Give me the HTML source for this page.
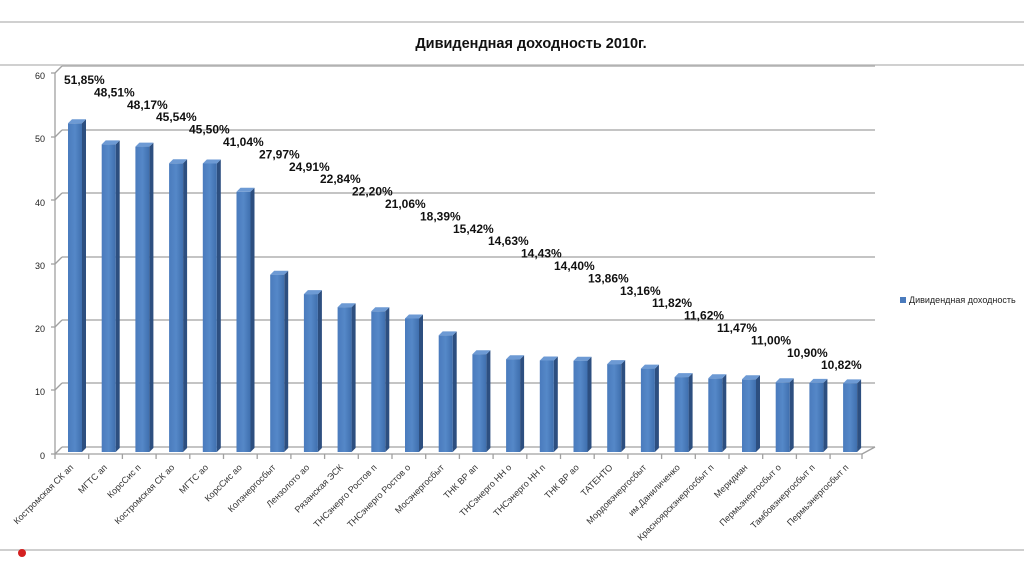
<!DOCTYPE html>
<html><head><meta charset="utf-8"><style>
html,body{margin:0;padding:0;background:#fff;}
svg{display:block;font-family:"Liberation Sans","DejaVu Sans",sans-serif;}
</style></head><body>
<svg width="1024" height="574" viewBox="0 0 1024 574" xmlns="http://www.w3.org/2000/svg">
<defs>
<linearGradient id="fr" x1="0" x2="1" y1="0" y2="0">
<stop offset="0" stop-color="#4a7bbd"/><stop offset="0.5" stop-color="#5588c8"/><stop offset="1" stop-color="#3f6fae"/>
</linearGradient>
<g id="b"><polygon points="14,0 18,-4 18,1000 14,1000" fill="#2d4f80"/></g>
</defs>
<line x1="0" y1="22" x2="1024" y2="22" stroke="#d0d0d0" stroke-width="2"/>
<line x1="0" y1="65" x2="1024" y2="65" stroke="#d0d0d0" stroke-width="2"/>
<line x1="0" y1="550" x2="1024" y2="550" stroke="#cfcfcf" stroke-width="2"/>
<circle cx="22" cy="553" r="4" fill="#d42020"/>
<text x="531" y="48" font-size="14.5" font-weight="bold" text-anchor="middle" fill="#111">Дивидендная доходность 2010г.</text>

<!-- grid -->
<g stroke="#a0a0a0" stroke-width="1.3" fill="none">
<line x1="62" y1="66" x2="875" y2="66"/>
<line x1="62" y1="130" x2="875" y2="130"/>
<line x1="62" y1="193" x2="875" y2="193"/>
<line x1="62" y1="257" x2="875" y2="257"/>
<line x1="62" y1="320" x2="875" y2="320"/>
<line x1="62" y1="383" x2="875" y2="383"/>
<line x1="62" y1="447" x2="875" y2="447"/>
<line x1="55" y1="73" x2="62" y2="66"/>
<line x1="55" y1="137" x2="62" y2="130"/>
<line x1="55" y1="200" x2="62" y2="193"/>
<line x1="55" y1="264" x2="62" y2="257"/>
<line x1="55" y1="327" x2="62" y2="320"/>
<line x1="55" y1="390" x2="62" y2="383"/>
<line x1="55" y1="454" x2="62" y2="447"/>
<line x1="862" y1="454" x2="875" y2="447"/>
<line x1="55" y1="73" x2="55" y2="454"/>
<line x1="55" y1="454" x2="862" y2="454"/>
<line x1="51" y1="73" x2="55" y2="73"/><line x1="51" y1="137" x2="55" y2="137"/><line x1="51" y1="200" x2="55" y2="200"/><line x1="51" y1="264" x2="55" y2="264"/><line x1="51" y1="327" x2="55" y2="327"/><line x1="51" y1="390" x2="55" y2="390"/><line x1="51" y1="454" x2="55" y2="454"/>
<path d="M55,454v5M88.7,454v5M122.4,454v5M156.1,454v5M189.8,454v5M223.5,454v5M257.2,454v5M290.9,454v5M324.6,454v5M358.3,454v5M392,454v5M425.7,454v5M459.4,454v5M493.1,454v5M526.8,454v5M560.5,454v5M594.2,454v5M627.9,454v5M661.6,454v5M695.3,454v5M729,454v5M762.7,454v5M796.4,454v5M830.1,454v5M862,454v5"/>
</g>
<g font-size="9" fill="#222" text-anchor="end">
<text x="45" y="79">60</text><text x="45" y="142">50</text><text x="45" y="206">40</text><text x="45" y="269">30</text><text x="45" y="332">20</text><text x="45" y="395">10</text><text x="45" y="459">0</text>
</g>

<!-- bars -->
<g>
<g transform="translate(68,123.3)"><polygon points="14,0 18,-4 18,324.7 14,328.7" fill="#2d4f80"/><polygon points="0,0 4,-4 18,-4 14,0" fill="#6d9ad4"/><rect width="14" height="328.7" fill="url(#fr)"/></g>
<g transform="translate(101.7,144.4)"><polygon points="14,0 18,-4 18,303.6 14,307.6" fill="#2d4f80"/><polygon points="0,0 4,-4 18,-4 14,0" fill="#6d9ad4"/><rect width="14" height="307.6" fill="url(#fr)"/></g>
<g transform="translate(135.4,146.6)"><polygon points="14,0 18,-4 18,301.4 14,305.4" fill="#2d4f80"/><polygon points="0,0 4,-4 18,-4 14,0" fill="#6d9ad4"/><rect width="14" height="305.4" fill="url(#fr)"/></g>
<g transform="translate(169.1,163.3)"><polygon points="14,0 18,-4 18,284.7 14,288.7" fill="#2d4f80"/><polygon points="0,0 4,-4 18,-4 14,0" fill="#6d9ad4"/><rect width="14" height="288.7" fill="url(#fr)"/></g>
<g transform="translate(202.8,163.5)"><polygon points="14,0 18,-4 18,284.5 14,288.5" fill="#2d4f80"/><polygon points="0,0 4,-4 18,-4 14,0" fill="#6d9ad4"/><rect width="14" height="288.5" fill="url(#fr)"/></g>
<g transform="translate(236.5,191.8)"><polygon points="14,0 18,-4 18,256.2 14,260.2" fill="#2d4f80"/><polygon points="0,0 4,-4 18,-4 14,0" fill="#6d9ad4"/><rect width="14" height="260.2" fill="url(#fr)"/></g>
<g transform="translate(270.2,274.7)"><polygon points="14,0 18,-4 18,173.3 14,177.3" fill="#2d4f80"/><polygon points="0,0 4,-4 18,-4 14,0" fill="#6d9ad4"/><rect width="14" height="177.3" fill="url(#fr)"/></g>
<g transform="translate(303.9,294.1)"><polygon points="14,0 18,-4 18,153.9 14,157.9" fill="#2d4f80"/><polygon points="0,0 4,-4 18,-4 14,0" fill="#6d9ad4"/><rect width="14" height="157.9" fill="url(#fr)"/></g>
<g transform="translate(337.6,307.2)"><polygon points="14,0 18,-4 18,140.8 14,144.8" fill="#2d4f80"/><polygon points="0,0 4,-4 18,-4 14,0" fill="#6d9ad4"/><rect width="14" height="144.8" fill="url(#fr)"/></g>
<g transform="translate(371.3,311.3)"><polygon points="14,0 18,-4 18,136.7 14,140.7" fill="#2d4f80"/><polygon points="0,0 4,-4 18,-4 14,0" fill="#6d9ad4"/><rect width="14" height="140.7" fill="url(#fr)"/></g>
<g transform="translate(405,318.5)"><polygon points="14,0 18,-4 18,129.5 14,133.5" fill="#2d4f80"/><polygon points="0,0 4,-4 18,-4 14,0" fill="#6d9ad4"/><rect width="14" height="133.5" fill="url(#fr)"/></g>
<g transform="translate(438.7,335.4)"><polygon points="14,0 18,-4 18,112.6 14,116.6" fill="#2d4f80"/><polygon points="0,0 4,-4 18,-4 14,0" fill="#6d9ad4"/><rect width="14" height="116.6" fill="url(#fr)"/></g>
<g transform="translate(472.4,354.2)"><polygon points="14,0 18,-4 18,93.8 14,97.8" fill="#2d4f80"/><polygon points="0,0 4,-4 18,-4 14,0" fill="#6d9ad4"/><rect width="14" height="97.8" fill="url(#fr)"/></g>
<g transform="translate(506.1,359.2)"><polygon points="14,0 18,-4 18,88.8 14,92.8" fill="#2d4f80"/><polygon points="0,0 4,-4 18,-4 14,0" fill="#6d9ad4"/><rect width="14" height="92.8" fill="url(#fr)"/></g>
<g transform="translate(539.8,360.5)"><polygon points="14,0 18,-4 18,87.5 14,91.5" fill="#2d4f80"/><polygon points="0,0 4,-4 18,-4 14,0" fill="#6d9ad4"/><rect width="14" height="91.5" fill="url(#fr)"/></g>
<g transform="translate(573.5,360.7)"><polygon points="14,0 18,-4 18,87.3 14,91.3" fill="#2d4f80"/><polygon points="0,0 4,-4 18,-4 14,0" fill="#6d9ad4"/><rect width="14" height="91.3" fill="url(#fr)"/></g>
<g transform="translate(607.2,364.1)"><polygon points="14,0 18,-4 18,83.9 14,87.9" fill="#2d4f80"/><polygon points="0,0 4,-4 18,-4 14,0" fill="#6d9ad4"/><rect width="14" height="87.9" fill="url(#fr)"/></g>
<g transform="translate(640.9,368.6)"><polygon points="14,0 18,-4 18,79.4 14,83.4" fill="#2d4f80"/><polygon points="0,0 4,-4 18,-4 14,0" fill="#6d9ad4"/><rect width="14" height="83.4" fill="url(#fr)"/></g>
<g transform="translate(674.6,377.1)"><polygon points="14,0 18,-4 18,70.9 14,74.9" fill="#2d4f80"/><polygon points="0,0 4,-4 18,-4 14,0" fill="#6d9ad4"/><rect width="14" height="74.9" fill="url(#fr)"/></g>
<g transform="translate(708.3,378.3)"><polygon points="14,0 18,-4 18,69.7 14,73.7" fill="#2d4f80"/><polygon points="0,0 4,-4 18,-4 14,0" fill="#6d9ad4"/><rect width="14" height="73.7" fill="url(#fr)"/></g>
<g transform="translate(742,379.3)"><polygon points="14,0 18,-4 18,68.7 14,72.7" fill="#2d4f80"/><polygon points="0,0 4,-4 18,-4 14,0" fill="#6d9ad4"/><rect width="14" height="72.7" fill="url(#fr)"/></g>
<g transform="translate(775.7,382.3)"><polygon points="14,0 18,-4 18,65.7 14,69.7" fill="#2d4f80"/><polygon points="0,0 4,-4 18,-4 14,0" fill="#6d9ad4"/><rect width="14" height="69.7" fill="url(#fr)"/></g>
<g transform="translate(809.4,382.9)"><polygon points="14,0 18,-4 18,65.1 14,69.1" fill="#2d4f80"/><polygon points="0,0 4,-4 18,-4 14,0" fill="#6d9ad4"/><rect width="14" height="69.1" fill="url(#fr)"/></g>
<g transform="translate(843.1,383.4)"><polygon points="14,0 18,-4 18,64.6 14,68.6" fill="#2d4f80"/><polygon points="0,0 4,-4 18,-4 14,0" fill="#6d9ad4"/><rect width="14" height="68.6" fill="url(#fr)"/></g>
</g>

<!-- value labels -->
<g font-size="12" font-weight="bold" fill="#111">
<text x="64" y="84">51,85%</text>
<text x="94" y="96.4">48,51%</text>
<text x="127" y="108.8">48,17%</text>
<text x="156" y="121.2">45,54%</text>
<text x="189" y="133.6">45,50%</text>
<text x="223" y="146">41,04%</text>
<text x="259" y="158.4">27,97%</text>
<text x="289" y="170.8">24,91%</text>
<text x="320" y="183.2">22,84%</text>
<text x="352" y="195.6">22,20%</text>
<text x="385" y="208">21,06%</text>
<text x="420" y="220.4">18,39%</text>
<text x="453" y="232.8">15,42%</text>
<text x="488" y="245.2">14,63%</text>
<text x="521" y="257.6">14,43%</text>
<text x="554" y="270">14,40%</text>
<text x="588" y="282.4">13,86%</text>
<text x="620" y="294.8">13,16%</text>
<text x="652" y="307.2">11,82%</text>
<text x="684" y="319.6">11,62%</text>
<text x="717" y="332">11,47%</text>
<text x="751" y="344.4">11,00%</text>
<text x="787" y="356.8">10,90%</text>
<text x="821" y="369.2">10,82%</text>
</g>

<!-- category labels -->
<g font-size="9" fill="#333" text-anchor="end">
<text transform="translate(74,468) rotate(-45)">Костромская СК ап</text>
<text transform="translate(107.7,468) rotate(-45)">МГТС ап</text>
<text transform="translate(141.4,468) rotate(-45)">КорсСис п</text>
<text transform="translate(175.1,468) rotate(-45)">Костромская СК ао</text>
<text transform="translate(208.8,468) rotate(-45)">МГТС ао</text>
<text transform="translate(242.5,468) rotate(-45)">КорсСис ао</text>
<text transform="translate(276.2,468) rotate(-45)">Колэнергосбыт</text>
<text transform="translate(309.9,468) rotate(-45)">Лензолото ао</text>
<text transform="translate(343.6,468) rotate(-45)">Рязанская ЭСК</text>
<text transform="translate(377.3,468) rotate(-45)">ТНСэнерго Ростов п</text>
<text transform="translate(411,468) rotate(-45)">ТНСэнерго Ростов о</text>
<text transform="translate(444.7,468) rotate(-45)">Мосэнергосбыт</text>
<text transform="translate(478.4,468) rotate(-45)">ТНК ВР ап</text>
<text transform="translate(512.1,468) rotate(-45)">ТНСэнерго НН о</text>
<text transform="translate(545.8,468) rotate(-45)">ТНСэнерго НН п</text>
<text transform="translate(579.5,468) rotate(-45)">ТНК ВР ао</text>
<text transform="translate(613.2,468) rotate(-45)">ТАТЕНТО</text>
<text transform="translate(646.9,468) rotate(-45)">Мордовэнергосбыт</text>
<text transform="translate(680.6,468) rotate(-45)">им.Даниличенко</text>
<text transform="translate(714.3,468) rotate(-45)">Красноярскэнергосбыт п</text>
<text transform="translate(748,468) rotate(-45)">Меридиан</text>
<text transform="translate(781.7,468) rotate(-45)">Пермьэнергосбыт о</text>
<text transform="translate(815.4,468) rotate(-45)">Тамбовэнергосбыт п</text>
<text transform="translate(849.1,468) rotate(-45)">Пермьэнергосбыт п</text>
</g>

<!-- legend -->
<rect x="900" y="297" width="6" height="6" fill="#4a7bbd"/>
<text x="909" y="303" font-size="9" fill="#222">Дивидендная доходность</text>
</svg>
</body></html>
